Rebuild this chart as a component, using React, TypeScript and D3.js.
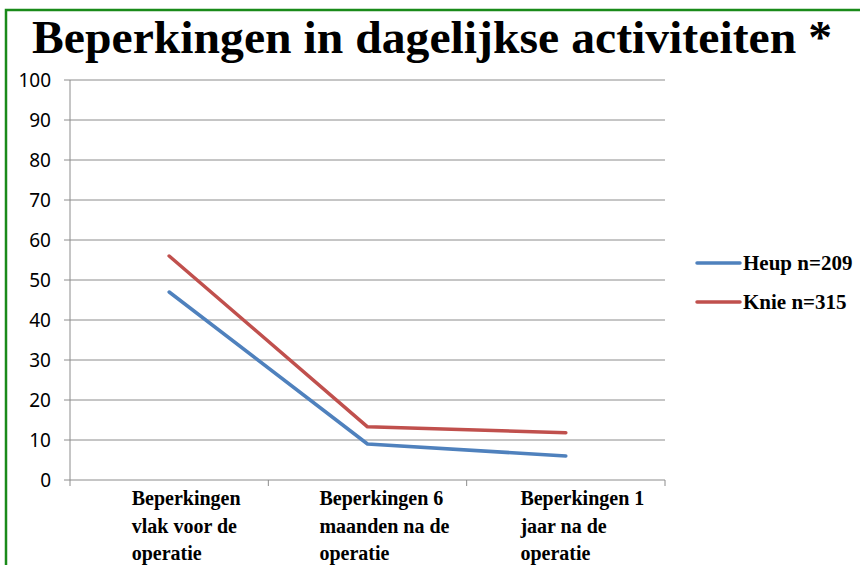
import { useEffect, useRef } from 'react';
import * as d3 from 'd3';

const categories = [
  ['Beperkingen', 'vlak voor de', 'operatie'],
  ['Beperkingen 6', 'maanden na de', 'operatie'],
  ['Beperkingen 1', 'jaar na de', 'operatie'],
];
const heup = [47, 9, 6];
const knie = [56, 13.3, 11.8];
const yTicks = [0, 10, 20, 30, 40, 50, 60, 70, 80, 90, 100];
const series = [
  { name: 'Heup n=209', values: heup, color: '#4f81bd' },
  { name: 'Knie n=315', values: knie, color: '#c0504d' },
];

const W = 860;
const H = 565;

export default function App() {
  const svgRef = useRef<SVGSVGElement>(null);

  useEffect(() => {
    document.body.style.margin = '0';
    if (!svgRef.current) return;
    const svg = d3.select(svgRef.current);
    svg.selectAll('*').remove();

    const x0 = 70;
    const x1 = 665;
    const x = d3.scaleBand<number>().domain(categories.map((_, i) => i)).range([x0, x1]);
    const y = d3.scaleLinear().domain([0, 100]).range([480, 80]);
    const serif = 'Liberation Serif, Times New Roman, serif';

    // frame
    svg
      .append('path')
      .attr('d', `M6,${H + 5} L6,10 L${W + 5},10`)
      .attr('fill', 'none')
      .attr('stroke', '#1a8a1a')
      .attr('stroke-width', 2.5);

    svg
      .append('text')
      .attr('x', 32)
      .attr('y', 53)
      .style('font-family', serif)
      .style('font-weight', 'bold')
      .style('font-size', '46px')
      .attr('textLength', 800)
      .attr('lengthAdjust', 'spacingAndGlyphs')
      .attr('fill', '#000')
      .text('Beperkingen in dagelijkse activiteiten *');

    // grid + y ticks
    yTicks.forEach((t) => {
      svg
        .append('line')
        .attr('x1', x0 - 6)
        .attr('x2', x1)
        .attr('y1', y(t))
        .attr('y2', y(t))
        .attr('stroke', '#8c8c8c')
        .attr('stroke-width', 1);
      svg
        .append('text')
        .attr('x', 51)
        .attr('y', y(t))
        .attr('dy', '0.36em')
        .attr('text-anchor', 'end')
        .style('font-family', 'Noto Sans, sans-serif')
        .style('font-size', '19px')
        .attr('fill', '#000')
        .text(t);
    });

    svg
      .append('line')
      .attr('x1', x0)
      .attr('x2', x0)
      .attr('y1', y(100))
      .attr('y2', y(0))
      .attr('stroke', '#8c8c8c');

    const bounds = [...categories.map((_, i) => x(i)!), x1];
    bounds.forEach((b) => {
      svg
        .append('line')
        .attr('x1', b)
        .attr('x2', b)
        .attr('y1', y(0))
        .attr('y2', y(0) + 6)
        .attr('stroke', '#8c8c8c');
    });

    // x labels
    categories.forEach((lines, i) => {
      const g = svg.append('g');
      const t = g
        .append('text')
        .style('font-family', serif)
        .style('font-weight', 'bold')
        .style('font-size', '20px')
        .attr('fill', '#000');
      lines.forEach((l, k) => {
        t.append('tspan')
          .attr('x', 0)
          .attr('y', 505 + k * 27.5)
          .text(l);
      });
      const w = (t.node() as SVGTextElement).getBBox().width;
      const cx = x(i)! + x.bandwidth() / 2 + 17;
      g.attr('transform', `translate(${cx - w / 2},0)`);
    });

    // lines
    const line = d3
      .line<number>()
      .x((_, i) => x(i)! + x.bandwidth() / 2)
      .y((d) => y(d));

    series.forEach((s) => {
      svg
        .append('path')
        .attr('d', line(s.values))
        .attr('fill', 'none')
        .attr('stroke', s.color)
        .attr('stroke-width', 3.5)
        .attr('stroke-linecap', 'round')
        .attr('stroke-linejoin', 'round');
    });

    // legend
    series.forEach((s, i) => {
      const ly = 263 + i * 39;
      svg
        .append('line')
        .attr('x1', 697)
        .attr('x2', 740)
        .attr('y1', ly)
        .attr('y2', ly)
        .attr('stroke', s.color)
        .attr('stroke-width', 3.5)
        .attr('stroke-linecap', 'round');
      svg
        .append('text')
        .attr('x', 743)
        .attr('y', ly)
        .attr('dy', '0.35em')
        .style('font-family', serif)
        .style('font-weight', 'bold')
        .style('font-size', '21px')
        .attr('fill', '#000')
        .text(s.name);
    });
  }, []);

  return <svg ref={svgRef} width={W} height={H} style={{ display: 'block', background: '#fff' }} />;
}
